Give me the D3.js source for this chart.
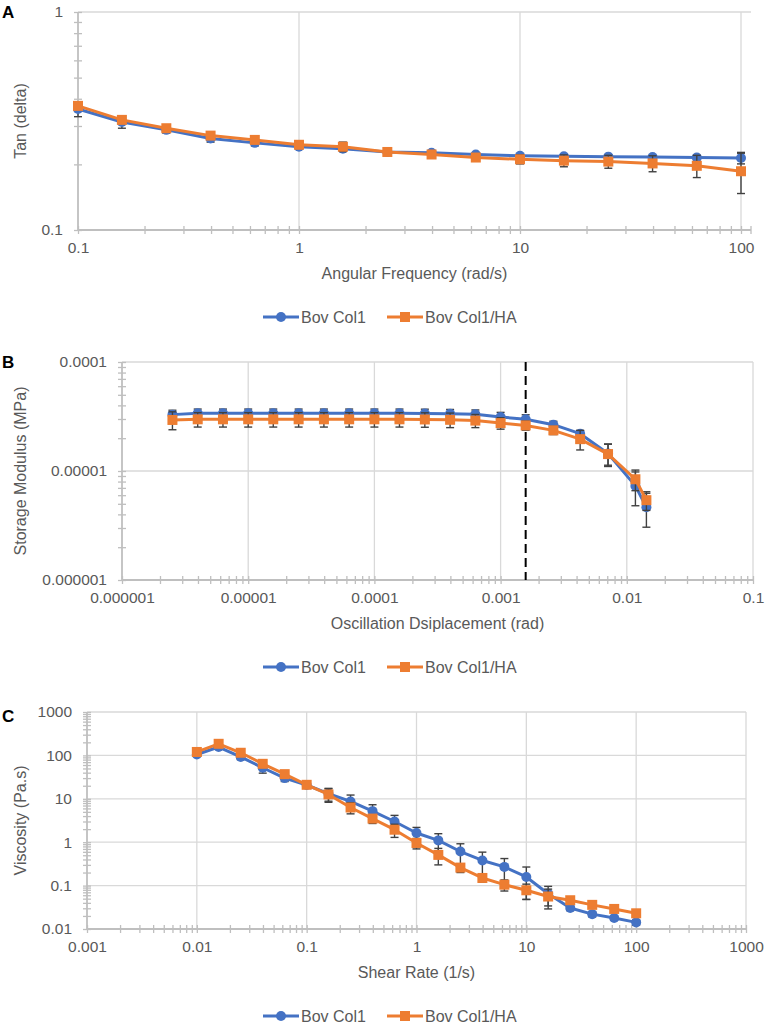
<!DOCTYPE html>
<html><head><meta charset="utf-8">
<script src="https://cdn.jsdelivr.net/npm/d3@7"></script>
<style>body{margin:0;background:#fff}svg{display:block}text{font-family:"Liberation Sans",Arial,sans-serif}</style>
</head><body><svg id="c" width="766" height="1024"></svg>
<script>
// ---------- data ----------
const seriesNames = ["Bov Col1", "Bov Col1/HA"];

// Panel A: tan(delta) vs angular frequency
const aFreq = [0.1, 0.158, 0.251, 0.398, 0.631, 1, 1.58, 2.51, 3.98, 6.31, 10, 15.8, 25.1, 39.8, 63.1, 100];
const aTanCol = [0.359, 0.313, 0.288, 0.263, 0.251, 0.241, 0.236, 0.228, 0.226, 0.222, 0.219, 0.218, 0.217, 0.216, 0.215, 0.214];
const aTanColErr = [0.028, 0.02, 0.01, 0.01, 0.008, 0.006, 0.006, 0.004, 0.004, 0.004, 0.004, 0.004, 0.004, 0.004, 0.005, 0.013];
const aTanHA = [0.371, 0.320, 0.293, 0.271, 0.259, 0.246, 0.241, 0.228, 0.222, 0.215, 0.211, 0.208, 0.206, 0.202, 0.197, 0.186];
const aTanHAErr = [0.012, 0.01, 0.008, 0.008, 0.008, 0.006, 0.012, 0.005, 0.006, 0.006, 0.01, 0.013, 0.014, 0.017, 0.023, 0.039];
const aXTicks = ["0.1", "1", "10", "100"];
const aYTicks = ["0.1", "1"];

// Panel B: storage modulus vs oscillation displacement
const bDisp = [2.51e-6, 3.98e-6, 6.31e-6, 1e-5, 1.58e-5, 2.51e-5, 3.98e-5, 6.31e-5, 1e-4, 1.58e-4, 2.51e-4, 3.98e-4, 6.31e-4, 1e-3, 1.58e-3, 2.62e-3, 4.27e-3, 7.1e-3, 1.17e-2, 1.43e-2];
const bModCol = [3.29e-5, 3.38e-5, 3.38e-5, 3.38e-5, 3.38e-5, 3.38e-5, 3.38e-5, 3.38e-5, 3.38e-5, 3.38e-5, 3.37e-5, 3.35e-5, 3.31e-5, 3.13e-5, 2.98e-5, 2.66e-5, 2.2e-5, 1.45e-5, 7.3e-6, 4.65e-6];
const bModColErr = [3.2e-6, 3.2e-6, 3.2e-6, 3.2e-6, 3.2e-6, 3.2e-6, 3.2e-6, 3.2e-6, 3.2e-6, 3.2e-6, 3.2e-6, 3.2e-6, 3.2e-6, 3.2e-6, 3e-6, 2e-6, 1.5e-6, 3.2e-6, 2.5e-6, 1.6e-6];
const bModHA = [2.94e-5, 2.98e-5, 2.98e-5, 2.98e-5, 2.98e-5, 2.98e-5, 2.98e-5, 2.98e-5, 2.98e-5, 2.98e-5, 2.97e-5, 2.95e-5, 2.9e-5, 2.75e-5, 2.62e-5, 2.36e-5, 1.96e-5, 1.43e-5, 8.4e-6, 5.4e-6];
const bModHAErr = [5.5e-6, 4.5e-6, 4.5e-6, 4.5e-6, 4.5e-6, 4.5e-6, 4.5e-6, 4.5e-6, 4.5e-6, 4.5e-6, 4.5e-6, 4.5e-6, 4e-6, 3.3e-6, 2.5e-6, 2e-6, 4e-6, 3.3e-6, 1.8e-6, 1.05e-6];
const bThreshold = 0.00158;
const bXTicks = ["0.000001", "0.00001", "0.0001", "0.001", "0.01", "0.1"];
const bYTicks = ["0.000001", "0.00001", "0.0001"];

// Panel C: viscosity vs shear rate
const cRate = [0.01, 0.0158, 0.0251, 0.0398, 0.0631, 0.1, 0.158, 0.251, 0.398, 0.631, 1, 1.58, 2.51, 3.98, 6.31, 10, 15.8, 25.1, 39.8, 63.1, 100];
const cViscCol = [105, 156, 92, 52, 30, 20.8, 13.1, 8.7, 5.2, 3.0, 1.63, 1.10, 0.61, 0.38, 0.27, 0.158, 0.065, 0.0305, 0.022, 0.0179, 0.0142];
const cViscColErr = [8, 15, 12, 13, 5, 3, 4.3, 3.5, 2.1, 1.15, 0.56, 0.47, 0.31, 0.21, 0.15, 0.11, 0.031, 0.004, 0.003, 0.002, 0.002];
const cViscHA = [120, 185, 115, 64, 37, 21, 12.6, 6.3, 3.5, 1.94, 0.96, 0.51, 0.26, 0.15, 0.105, 0.078, 0.056, 0.046, 0.036, 0.029, 0.023];
const cViscHAErr = [10, 20, 12, 8, 5, 3, 4.3, 1.8, 0.8, 0.65, 0.26, 0.21, 0.06, 0.03, 0.03, 0.03, 0.027, 0.005, 0.004, 0.003, 0.003];
const cXTicks = ["0.001", "0.01", "0.1", "1", "10", "100", "1000"];
const cYTicks = ["0.01", "0.1", "1", "10", "100", "1000"];

// ---------- drawing ----------
const svg = d3.select("#c");
const BLUE = "#4472C4", ORANGE = "#ED7D31", GRID = "#d9d9d9", AXIS = "#bfbfbf", TXT = "#595959", ERR = "#404040";

function panel(o) {
  const g = svg.append("g");
  const x = d3.scaleLog().domain(o.xDom).range([o.left, o.right]);
  const y = d3.scaleLog().domain(o.yDom).range([o.bottom, o.top]);
  const xEnd = o.right + (o.xExtra || 0);
  const xMaj = o.xLabels.map(Number), yMaj = o.yLabels.map(Number);

  // gridlines
  g.selectAll(null).data(xMaj.slice(1)).join("line")
    .attr("x1", d => x(d)).attr("x2", d => x(d)).attr("y1", o.top).attr("y2", o.bottom)
    .attr("stroke", GRID).attr("stroke-width", 1.3);
  g.selectAll(null).data(yMaj.slice(1)).join("line")
    .attr("x1", o.left).attr("x2", xEnd).attr("y1", d => y(d)).attr("y2", d => y(d))
    .attr("stroke", GRID).attr("stroke-width", 1.3);

  // x axis
  const xTickVals = x.ticks().filter(v => v >= o.xDom[0] * 0.999 && v <= o.xDom[1] * 1.001);
  const xa = g.append("g").attr("transform", `translate(0,${o.bottom})`)
    .call(d3.axisBottom(x).tickValues(xTickVals).tickSize(4).tickFormat(""));
  xa.select(".domain").remove();
  xa.selectAll(".tick line").attr("y1", -4).attr("y2", 4).attr("stroke", AXIS).attr("stroke-width", 1.3);
  g.append("line").attr("x1", o.left).attr("x2", xEnd).attr("y1", o.bottom).attr("y2", o.bottom)
    .attr("stroke", AXIS).attr("stroke-width", 1.8);
  if (o.xExtra) g.append("line").attr("x1", xEnd).attr("x2", xEnd).attr("y1", o.bottom - 4).attr("y2", o.bottom + 4)
    .attr("stroke", AXIS).attr("stroke-width", 1.3);
  const xl = g.append("g").attr("transform", `translate(0,${o.bottom + 9})`)
    .call(d3.axisBottom(x).tickValues(xMaj).tickSize(0).tickFormat((d, i) => o.xLabels[i]));
  xl.select(".domain").remove();
  xl.selectAll("text").attr("fill", TXT).attr("font-size", 15.5).attr("dy", "0.71em");

  // y axis
  const yTickVals = y.ticks().filter(v => v >= o.yDom[0] * 0.999 && v <= o.yDom[1] * 1.001);
  const ya = g.append("g").attr("transform", `translate(${o.left},0)`)
    .call(d3.axisLeft(y).tickValues(yTickVals).tickSize(4).tickFormat(""));
  ya.select(".domain").remove();
  ya.selectAll(".tick line").attr("x1", -4).attr("x2", 4).attr("stroke", AXIS).attr("stroke-width", 1.3);
  g.append("line").attr("x1", o.left).attr("x2", o.left).attr("y1", o.top).attr("y2", o.bottom)
    .attr("stroke", AXIS).attr("stroke-width", 1.8);
  const yl = g.append("g").attr("transform", `translate(${o.left - 15},0)`)
    .call(d3.axisLeft(y).tickValues(yMaj).tickSize(0).tickFormat((d, i) => o.yLabels[i]));
  yl.select(".domain").remove();
  yl.selectAll("text").attr("fill", TXT).attr("font-size", 15.5).attr("x", 0);

  // titles
  g.append("text").attr("x", (o.left + xEnd) / 2).attr("y", o.bottom + 49).attr("text-anchor", "middle")
    .attr("fill", TXT).attr("font-size", 16).text(o.xTitle);
  g.append("text").attr("transform", `translate(26,${(o.top + o.bottom) / 2}) rotate(-90)`)
    .attr("text-anchor", "middle").attr("fill", TXT).attr("font-size", 16).text(o.yTitle);
  g.append("text").attr("x", 2).attr("y", o.top + o.letterDy).attr("font-weight", "bold")
    .attr("font-size", o.letterSize).attr("fill", "#000").text(o.letter);

  if (o.extra) o.extra(g, x, y);

  // series
  const series = [
    { v: o.s1, e: o.e1, color: BLUE, shape: "circle" },
    { v: o.s2, e: o.e2, color: ORANGE, shape: "square" }
  ];
  series.forEach(s => {
    const pts = o.xs.map((xv, i) => ({ x: xv, y: s.v[i], e: s.e[i] }));
    const eg = g.append("g").attr("stroke", ERR).attr("stroke-width", 1.4);
    pts.forEach(p => {
      const lo = Math.max(p.y - p.e, o.yDom[0] * 0.5), hi = p.y + p.e;
      const cx = x(p.x);
      eg.append("line").attr("x1", cx).attr("x2", cx).attr("y1", y(lo)).attr("y2", y(hi));
      eg.append("line").attr("x1", cx - 4).attr("x2", cx + 4).attr("y1", y(lo)).attr("y2", y(lo));
      eg.append("line").attr("x1", cx - 4).attr("x2", cx + 4).attr("y1", y(hi)).attr("y2", y(hi));
    });
    g.append("path").datum(pts).attr("fill", "none").attr("stroke", s.color).attr("stroke-width", 3)
      .attr("stroke-linejoin", "round")
      .attr("d", d3.line().x(d => x(d.x)).y(d => y(d.y)));
    if (s.shape === "circle") {
      g.selectAll(null).data(pts).join("circle").attr("cx", d => x(d.x)).attr("cy", d => y(d.y))
        .attr("r", 5).attr("fill", s.color);
    } else {
      g.selectAll(null).data(pts).join("rect").attr("x", d => x(d.x) - 5).attr("y", d => y(d.y) - 5)
        .attr("width", 10).attr("height", 10).attr("fill", s.color);
    }
  });

  // legend
  const ly = o.bottom + 87;
  const lg = g.append("g");
  [[263, BLUE, "circle", seriesNames[0]], [387, ORANGE, "square", seriesNames[1]]].forEach(([lx, c, sh, name]) => {
    lg.append("line").attr("x1", lx).attr("x2", lx + 36).attr("y1", ly).attr("y2", ly).attr("stroke", c).attr("stroke-width", 3);
    if (sh === "circle") lg.append("circle").attr("cx", lx + 18).attr("cy", ly).attr("r", 5).attr("fill", c);
    else lg.append("rect").attr("x", lx + 13).attr("y", ly - 5).attr("width", 10).attr("height", 10).attr("fill", c);
    lg.append("text").attr("x", lx + 38).attr("y", ly + 6).attr("fill", TXT).attr("font-size", 16).text(name);
  });
}

panel({
  letter: "A", letterSize: 17, letterDy: 6,
  left: 78, right: 741, xExtra: 10, top: 12, bottom: 230,
  xDom: [0.1, 100], yDom: [0.1, 1],
  xLabels: aXTicks, yLabels: aYTicks,
  xTitle: "Angular Frequency (rad/s)", yTitle: "Tan (delta)",
  xs: aFreq, s1: aTanCol, e1: aTanColErr, s2: aTanHA, e2: aTanHAErr
});

panel({
  letter: "B", letterSize: 17, letterDy: 6,
  left: 122, right: 753, top: 362, bottom: 580,
  xDom: [1e-6, 0.1], yDom: [1e-6, 1e-4],
  xLabels: bXTicks, yLabels: bYTicks,
  xTitle: "Oscillation Dsiplacement (rad)", yTitle: "Storage Modulus (MPa)",
  xs: bDisp, s1: bModCol, e1: bModColErr, s2: bModHA, e2: bModHAErr,
  extra: (g, x, y) => {
    g.append("line").attr("x1", x(bThreshold)).attr("x2", x(bThreshold))
      .attr("y1", y(1e-4)).attr("y2", y(1e-6))
      .attr("stroke", "#000").attr("stroke-width", 2).attr("stroke-dasharray", "9,5");
  }
});

panel({
  letter: "C", letterSize: 17, letterDy: 10,
  left: 87, right: 746, top: 712, bottom: 929,
  xDom: [0.001, 1000], yDom: [0.01, 1000],
  xLabels: cXTicks, yLabels: cYTicks,
  xTitle: "Shear Rate (1/s)", yTitle: "Viscosity (Pa.s)",
  xs: cRate, s1: cViscCol, e1: cViscColErr, s2: cViscHA, e2: cViscHAErr
});
</script></body></html>
